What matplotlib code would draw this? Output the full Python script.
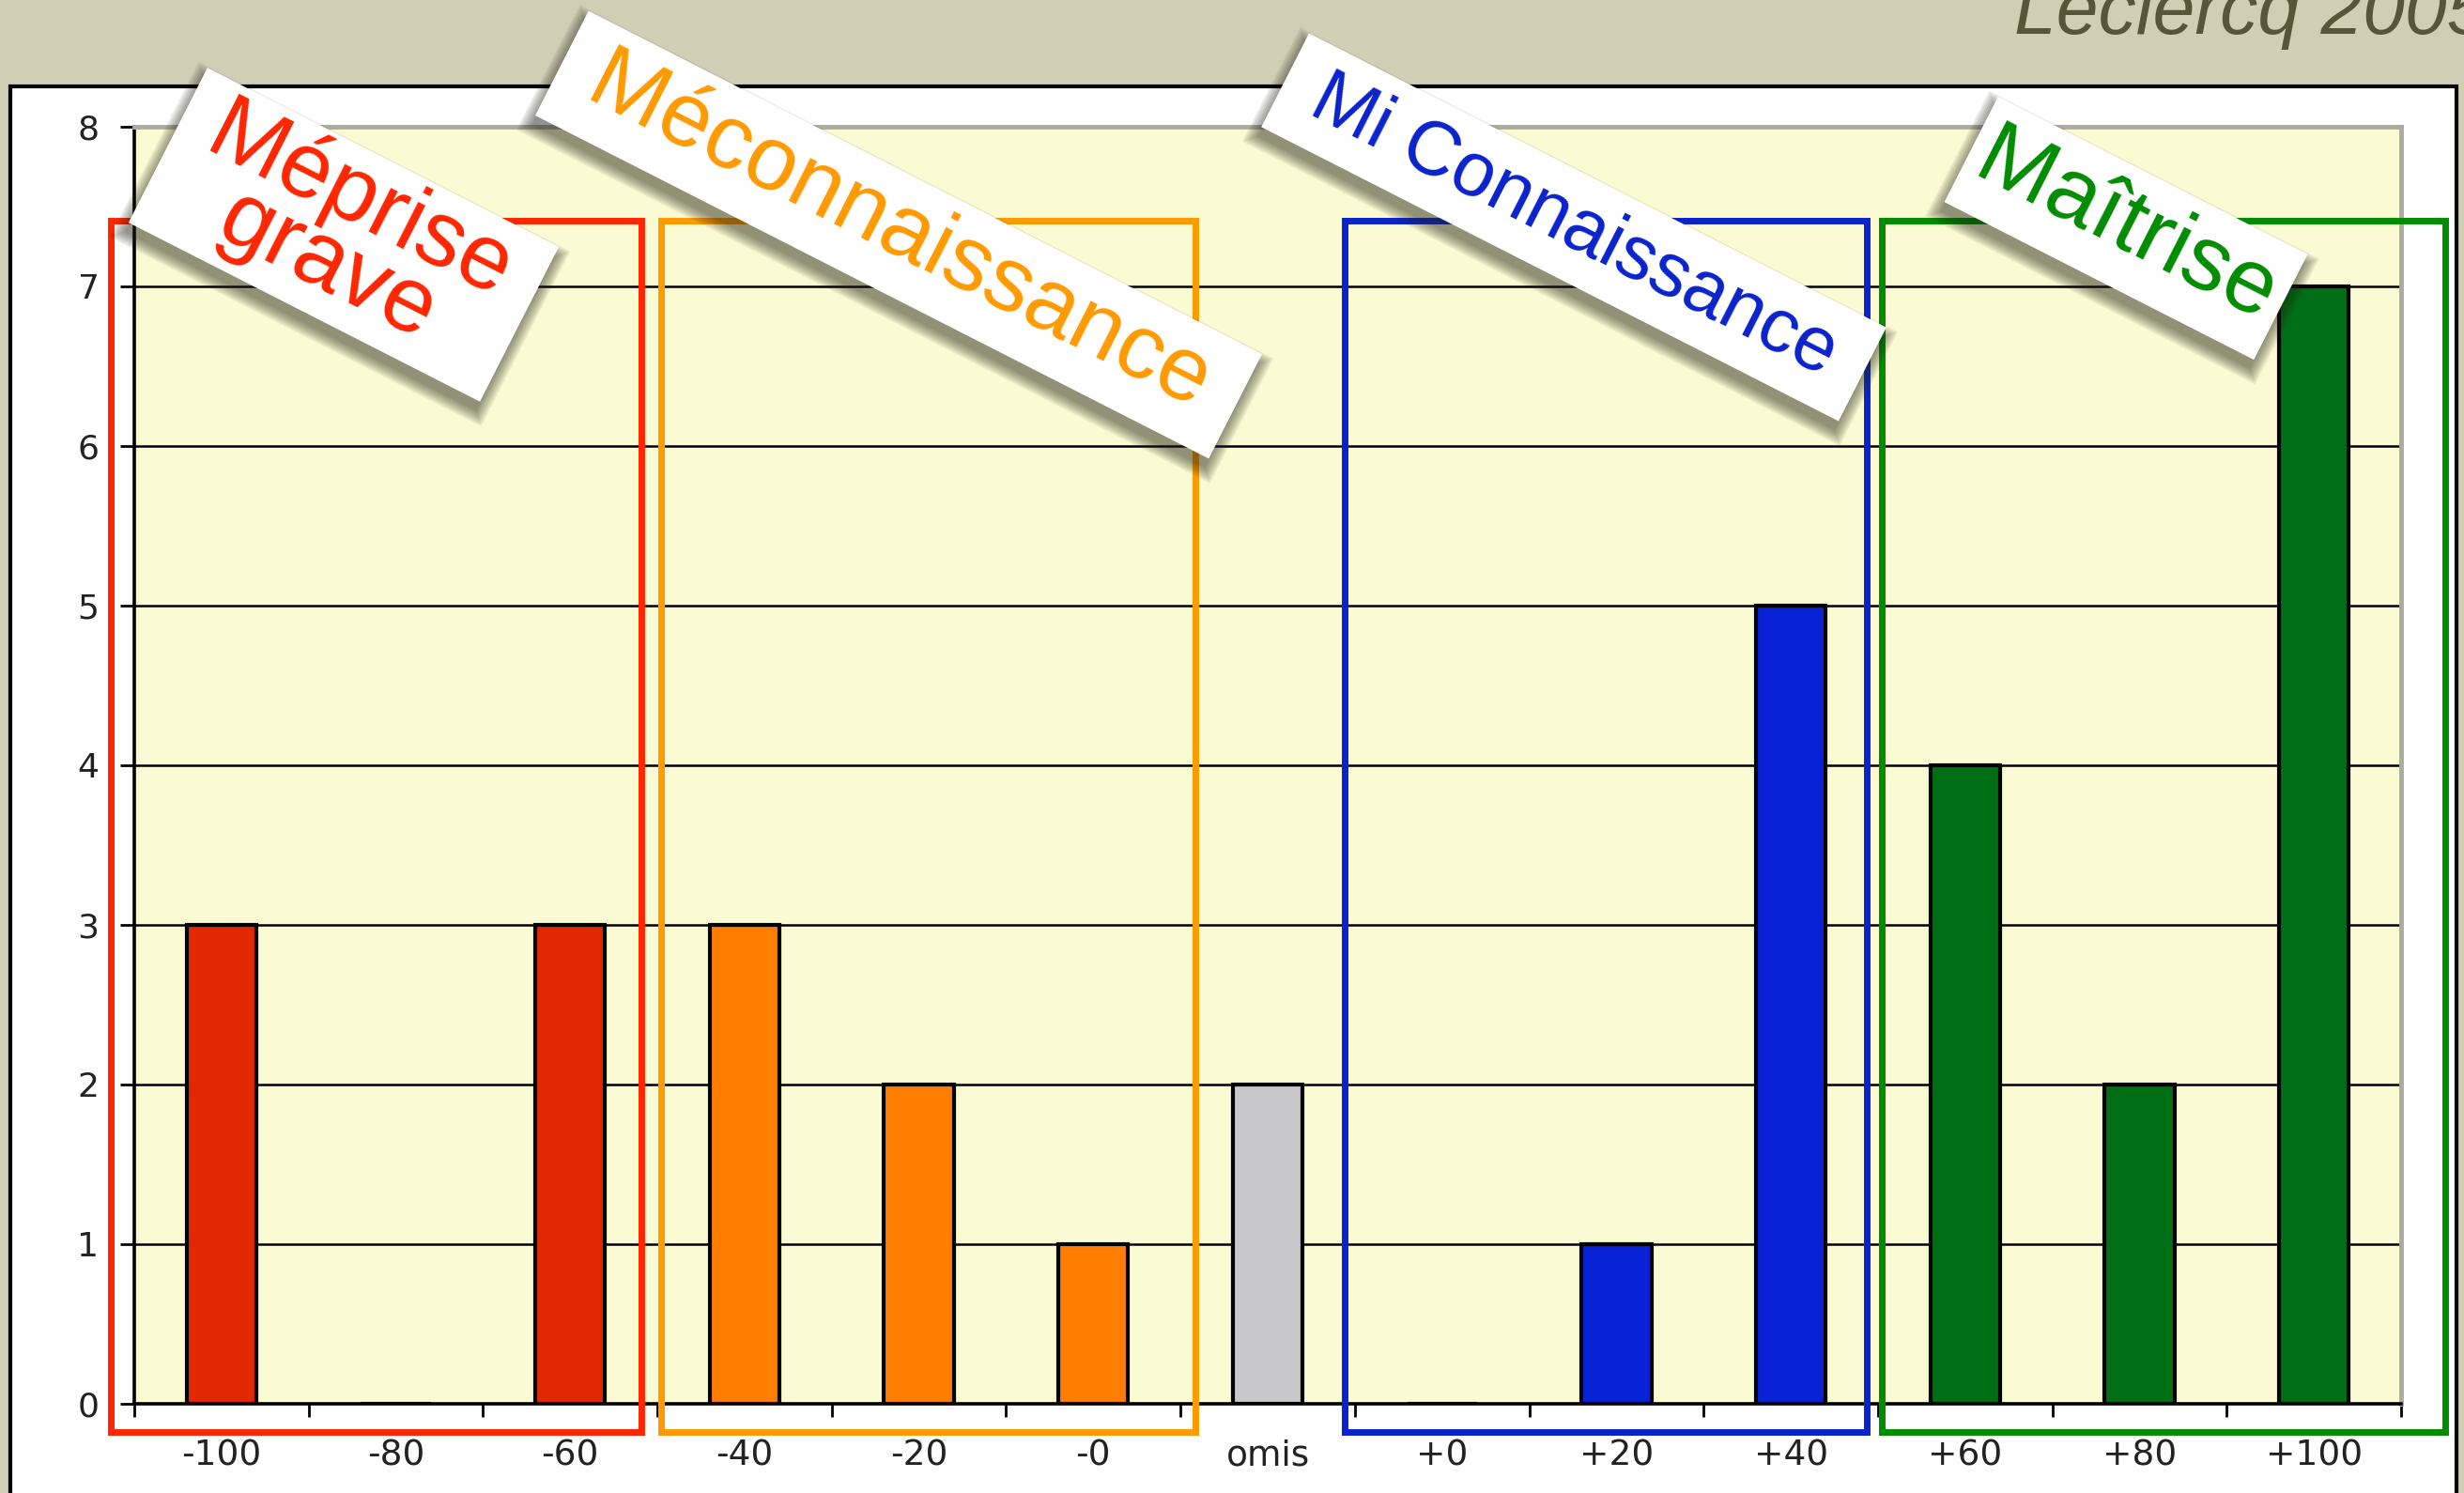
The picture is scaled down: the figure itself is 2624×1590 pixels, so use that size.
import numpy as np
import matplotlib
matplotlib.use("Agg")
import matplotlib.pyplot as plt
from matplotlib.patches import Rectangle, Polygon

# ---------------- data ----------------
categories = ['-100', '-80', '-60', '-40', '-20', '-0', 'omis',
              '+0', '+20', '+40', '+60', '+80', '+100']
counts = [3, 0, 3, 3, 2, 1, 2, 0, 1, 5, 4, 2, 7]
groups = ['meprise', 'meprise', 'meprise',
          'mecon', 'mecon', 'mecon',
          'omis',
          'mi', 'mi', 'mi',
          'maitrise', 'maitrise', 'maitrise']
y_ticks = [0, 1, 2, 3, 4, 5, 6, 7, 8]
title_text = 'Leclercq 2005'
group_labels = {'meprise': 'Méprise\ngrave', 'mecon': 'Méconnaissance',
                'mi': 'Mi Connaissance', 'maitrise': 'Maîtrise'}

# ---------------- styles ----------------
bar_colors = {'meprise': '#E22800', 'mecon': '#FF7D00', 'omis': '#C8C8CA',
              'mi': '#0A22D6', 'maitrise': '#006E14'}
box_colors = {'meprise': '#FF2600', 'mecon': '#FF9A00',
              'mi': '#0A22CC', 'maitrise': '#008C00'}

W, H = 2624, 1590
fig = plt.figure(figsize=(W / 100, H / 100), dpi=100)
fig.patch.set_facecolor('#D0CEB4')

# white panel
panel = Rectangle((11 / W, -0.05), (2616 - 11) / W, 0.05 + 1 - 92 / H,
                  transform=fig.transFigure, facecolor='white',
                  edgecolor='black', linewidth=3, zorder=-5)
fig.add_artist(panel)

# title (cut off on the right, as in the original slide)
fig.text(2145 / W, 1 - 36 / H, title_text, fontsize=58, style='italic',
         family='Liberation Sans', color='#57553A', ha='left', va='baseline')

# axes
left, right, top, bottom = 143, 2557, 135, 1495
ax = fig.add_axes([left / W, 1 - bottom / H, (right - left) / W, (bottom - top) / H])
ax.set_facecolor('#FBFBD3')
x = np.arange(len(categories))
ax.bar(x, counts, width=0.40, color=[bar_colors[g] for g in groups],
       edgecolor='black', linewidth=3.0, zorder=3)
ax.set_xlim(-0.5, len(categories) - 0.5)
ax.set_ylim(0, 8)

ax.set_yticks(y_ticks)
ax.set_yticklabels([str(v) for v in y_ticks])
ax.yaxis.grid(True, color='black', linewidth=1.8)
ax.set_axisbelow(True)

ax.set_xticks(np.arange(-0.5, len(categories), 1.0))
ax.set_xticklabels([])
ax.set_xticks(x, minor=True)
ax.set_xticklabels(categories, minor=True)
ax.tick_params(axis='x', which='major', length=10, width=2, direction='out', color='black')
ax.tick_params(axis='x', which='minor', length=0, pad=27, labelsize=27, labelcolor='#222222')
ax.tick_params(axis='y', length=11, width=2, direction='out', pad=16,
               labelsize=26, labelcolor='#222222')
for lab in ax.get_xticklabels(minor=True) + ax.get_yticklabels():
    lab.set_family('DejaVu Sans')

for s in ['left', 'bottom']:
    ax.spines[s].set_color('black')
    ax.spines[s].set_linewidth(2.6)
for s in ['top', 'right']:
    ax.spines[s].set_color('#ABABA0')
    ax.spines[s].set_linewidth(3.5)

# group boxes (data x, data y, unclipped)
box_spans = {'meprise': (-0.635, 2.408), 'mecon': (2.521, 5.585),
             'mi': (6.441, 9.435), 'maitrise': (9.521, 12.752)}
box_y0, box_y1 = -0.176, 7.41
for g, (x0, x1) in box_spans.items():
    ax.add_patch(Rectangle((x0, box_y0), x1 - x0, box_y1 - box_y0, fill=False,
                           edgecolor=box_colors[g], linewidth=5, clip_on=False,
                           zorder=6))

# rotated white labels with a soft shadow
def tag(cx, cy, L, Wd, ang, text, color, fs, ls=1.0):
    a = np.deg2rad(ang)
    u = np.array([np.cos(a), np.sin(a)])
    v = np.array([-np.sin(a), np.cos(a)])
    c = np.array([cx, cy])

    def corners(grow=0.0, off=(0, 0)):
        pts = []
        for su, sv in [(-1, -1), (1, -1), (1, 1), (-1, 1)]:
            p = c + su * u * (L / 2 + grow) + sv * v * (Wd / 2 + grow) + np.array(off)
            pts.append((p[0] / W, 1 - p[1] / H))
        return pts

    for k in range(7):
        fig.add_artist(Polygon(corners(grow=2 * k, off=(-4, 10)), closed=True,
                               transform=fig.transFigure, facecolor='#24241A',
                               edgecolor='none', alpha=0.09, zorder=9))
    fig.add_artist(Polygon(corners(), closed=True, transform=fig.transFigure,
                           facecolor='white', edgecolor='none', zorder=10))
    t = fig.text(cx / W, 1 - cy / H, text, rotation=-ang, rotation_mode='anchor',
                 ha='center', va='center', color=color, fontsize=fs,
                 family='Liberation Sans', linespacing=ls, multialignment='center')
    t.set_zorder(11)

tag(366, 250, 420, 185, 27, group_labels['meprise'], box_colors['meprise'], 71, 0.78)
tag(957, 250, 805, 125, 27, group_labels['mecon'], box_colors['mecon'], 70)
tag(1676, 242, 690, 112, 27, group_labels['mi'], box_colors['mi'], 58)
tag(2264, 243, 370, 126, 27, group_labels['maitrise'], box_colors['maitrise'], 70)

fig.savefig('out.png', dpi=100, facecolor=fig.get_facecolor())
